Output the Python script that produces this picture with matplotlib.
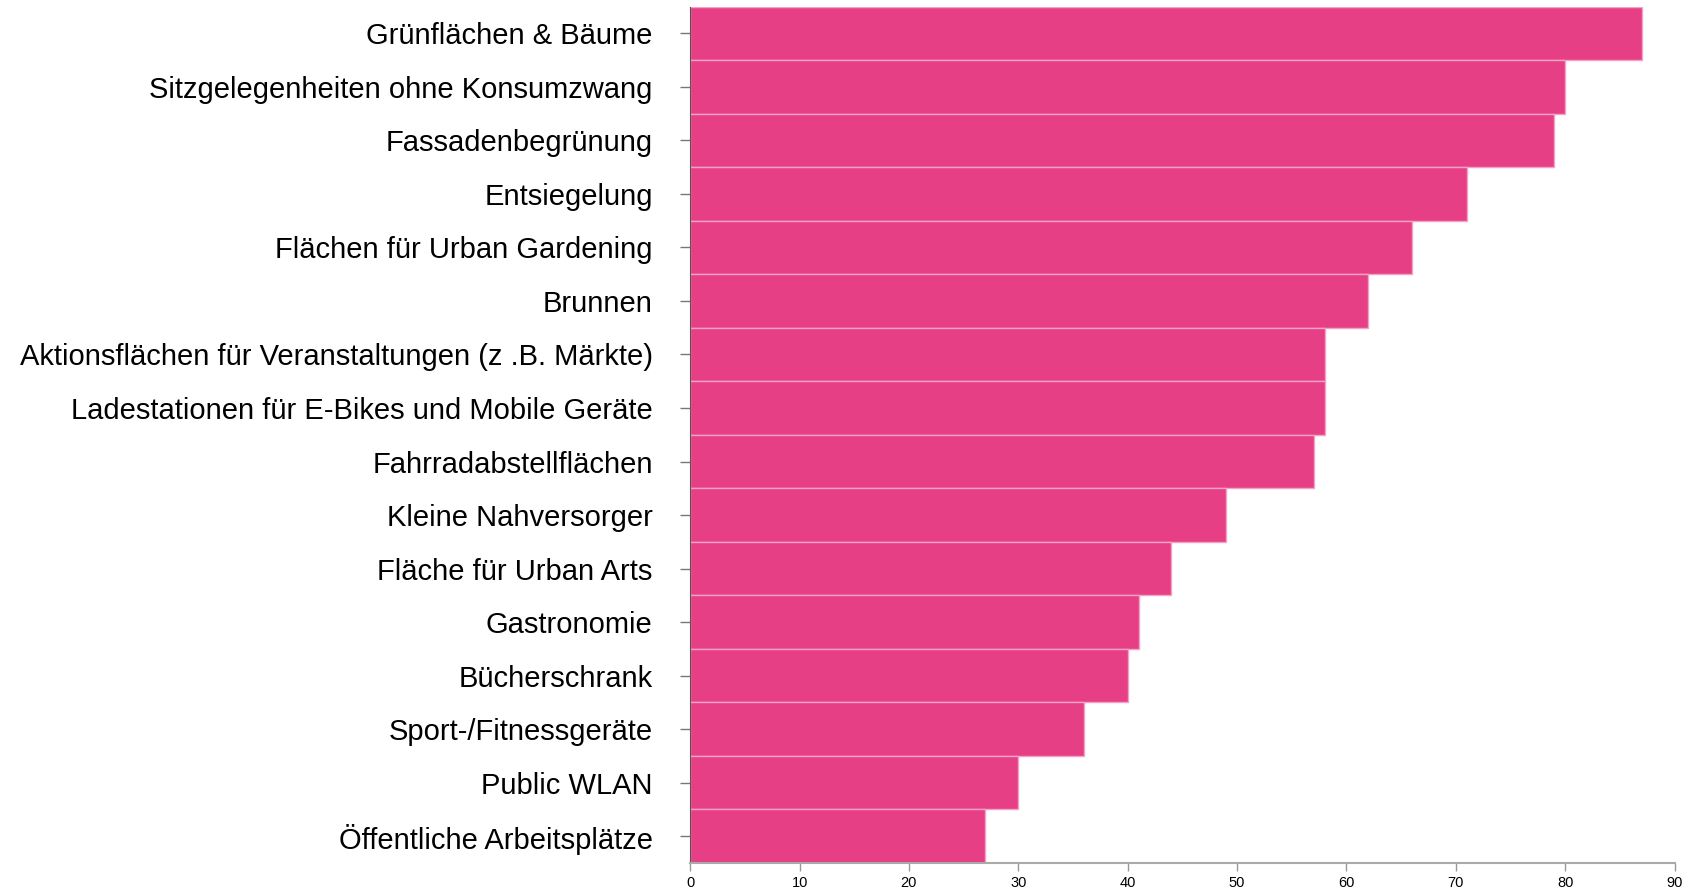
import matplotlib.pyplot as plt

plt.rcParams["font.family"] = ["Liberation Sans", "DejaVu Sans"]

categories = [
    "Grünflächen & Bäume",
    "Sitzgelegenheiten ohne Konsumzwang",
    "Fassadenbegrünung",
    "Entsiegelung",
    "Flächen für Urban Gardening",
    "Brunnen",
    "Aktionsflächen für Veranstaltungen (z .B. Märkte)",
    "Ladestationen für E-Bikes und Mobile Geräte",
    "Fahrradabstellflächen",
    "Kleine Nahversorger",
    "Fläche für Urban Arts",
    "Gastronomie",
    "Bücherschrank",
    "Sport-/Fitnessgeräte",
    "Public WLAN",
    "Öffentliche Arbeitsplätze",
]
values = [87, 80, 79, 71, 66, 62, 58, 58, 57, 49, 44, 41, 40, 36, 30, 27]
xticks = [0, 10, 20, 30, 40, 50, 60, 70, 80, 90]

fig = plt.figure(figsize=(17, 8.91), dpi=100)
ax = fig.add_axes([0.406, 0.0314, 0.579, 0.9613])

ypos = list(range(len(categories)))[::-1]
ax.barh(ypos, values, height=1.0, color="#e63f86",
        edgecolor="#f4a3c4", linewidth=1.0)

ax.set_xlim(0, 90)
ax.set_ylim(-0.5, len(categories) - 0.5)
ax.set_xticks(xticks)
ax.set_yticks(ypos)
ax.set_yticklabels(categories, fontsize=21)

for s in ["top", "right"]:
    ax.spines[s].set_visible(False)
ax.spines["left"].set_color("#555555")
ax.spines["bottom"].set_color("#aaaaaa")
ax.spines["bottom"].set_linewidth(1.5)

ax.tick_params(axis="y", length=7, width=1, color="#777777", pad=20)
ax.tick_params(axis="x", length=6, width=1, color="#999999", labelsize=10.5, pad=3)

fig.savefig("out.png", dpi=100)
